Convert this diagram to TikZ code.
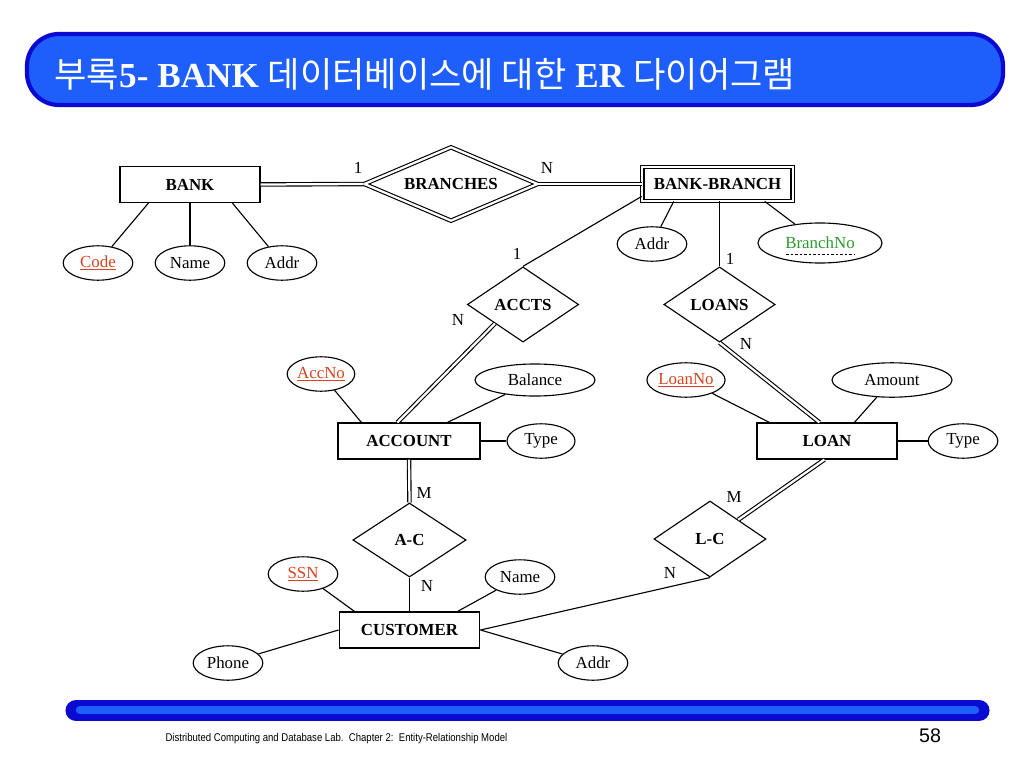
\documentclass[tikz,border=0pt]{standalone}
\usepackage{fontspec}
\setmainfont{Liberation Serif}
\newfontfamily\krfont{Noto Sans CJK KR}
\newfontfamily\footfont{Liberation Sans}
\usetikzlibrary{shapes.geometric,calc}
\definecolor{barblue}{HTML}{1E5EFA}
\definecolor{bardark}{HTML}{0A0AD0}
\definecolor{keyred}{HTML}{D8431E}
\definecolor{partgreen}{HTML}{2E9A2E}
\tikzset{
  entity/.style  = {draw, rectangle, font=\fontsize{12}{14}\selectfont\bfseries,
                    inner sep=0pt, minimum width=3.5cm, minimum height=0.9cm},
  weakent/.style = {entity, double, double distance=1.6pt},
  rel/.style     = {draw, diamond, aspect=1.5, inner sep=0pt,
                    font=\fontsize{12}{14}\selectfont\bfseries,
                    minimum width=2.78cm, minimum height=1.88cm},
  weakrel/.style = {rel, double, double distance=1.6pt},
  attr/.style    = {draw, ellipse, inner sep=0pt,
                    minimum width=1.74cm, minimum height=0.86cm},
  keyattr/.style = {attr, text=keyred},
  card/.style    = {inner sep=0pt},
  dbl/.style     = {double, double distance=1.6pt},
}

\begin{document}
\begin{tikzpicture}[x=0.025cm, y=-0.025cm, line width=0.8pt,
                    font=\fontsize{12}{14}\selectfont]
\useasboundingbox (0,0) rectangle (1024,768);
% ---- title bar ----
\draw[bardark, line width=3pt, fill=barblue, rounded corners=0.8cm]
     (27,34) rectangle (1003,105);
\node[anchor=base west, text=white, inner sep=0pt,
      font=\fontsize{25}{28}\selectfont] (title) at (54,88)
     {{\krfont 부록}\textbf{5- BANK} {\krfont 데이터베이스에 대한}
      \textbf{ER} {\krfont 다이어그램}};
% ---- entities ----
\node[entity] (bank) at (190,184.5) {BANK};
\node[weakent, minimum width=3.76cm, minimum height=0.84cm]
     (bb) at (717.5,184) {BANK-BRANCH};
\node[entity, minimum width=3.55cm] (account) at (409,441) {ACCOUNT};
\node[entity] (loan) at (827,441) {LOAN};
\node[entity, minimum width=3.52cm] (customer) at (409.5,630) {CUSTOMER};
% ---- relationships ----
\node[weakrel, minimum width=4.34cm, minimum height=1.84cm]
     (branches) at (451,184) {BRANCHES};
\node[rel] (accts) at (523,304.5) {ACCTS};
\node[rel] (loans) at (719.5,304.5) {LOANS};
\node[rel, minimum width=2.83cm, minimum height=1.85cm] (ac) at (409.5,540) {A-C};
\node[rel, minimum width=2.8cm, minimum height=1.9cm] (lc) at (710,539) {L-C};
% ---- attributes ----
\node[keyattr] (code) at (98,263) {\underline{Code}};
\node[attr] (bname) at (190,263) {Name};
\node[attr] (baddr) at (282,263) {Addr};
\node[attr] (bbaddr) at (652,244) {Addr};
\node[attr, text=partgreen, minimum width=3.1cm, minimum height=1cm]
     (bno) at (820,243) {BranchNo};
\draw[line width=0.6pt, dash pattern=on 2pt off 1.2pt]
     ($(bno)+(-34,11)$) -- ($(bno)+(34,11)$);
\node[keyattr, minimum width=1.53cm] (accno) at (321,374) {\underline{AccNo}};
\node[attr, minimum width=3cm, minimum height=0.8cm]
     (balance) at (535,380) {Balance};
\node[attr, minimum width=1.7cm] (acctype) at (541,441) {Type};
\node[keyattr, minimum width=1.68cm] (loanno) at (686,380) {\underline{LoanNo}};
\node[attr, minimum width=3cm] (amount) at (892,380) {Amount};
\node[attr] (loantype) at (963,441) {Type};
\node[keyattr] (ssn) at (303,574) {\underline{SSN}};
\node[attr] (cname) at (520,577) {Name};
\node[attr] (phone) at (228,663) {Phone};
\node[attr] (caddr) at (593,663) {Addr};
% ---- connectors ----
\draw[dbl] (bank.east) -- (branches.west);
\draw[dbl] (branches.east) -- (bb.west);
\draw ($(bank.south west)+(29,0)$) -- (code);
\draw (bank.south) -- (bname);
\draw ($(bank.south west)+(113,0)$) -- (baddr);
\draw ($(bb.south west)+(32,0)$) -- (bbaddr);
\draw ($(bb.south west)+(0,-5)$) -- (accts.north);
\draw (bb.south -| loans.north) -- (loans.north);
\draw ($(bb.south west)+(123,0)$) -- (bno);
\draw[dbl] (accts.south west) -- ($(account.north west)+(60,0)$);
\draw[dbl] (loans.south) -- ($(loan.north west)+(63,0)$);
\draw ($(account.north west)+(24,0)$) -- (accno);
\draw ($(account.north west)+(110,0)$) -- (balance);
\draw (account.east) -- (acctype);
\draw ($(loan.north west)+(13,0)$) -- (loanno);
\draw ($(loan.north west)+(98,0)$) -- (amount);
\draw (loan.east) -- (loantype);
\draw[dbl] (account.south) -- (ac.north);
\draw (ac.south) -- (customer.north);
\draw[dbl] ($(loan.south west)+(68,0)$) -- (lc.north east);
\draw (customer.east) -- (lc.south);
\draw ($(customer.north west)+(16,0)$) -- (ssn);
\draw ($(customer.north west)+(119,0)$) -- (cname);
\draw (customer.west) -- (phone);
\draw (customer.east) -- (caddr);
% ---- cardinalities ----
\node[card] (cbr1) at (358,168) {1};
\node[card] (cbrn) at (547,168) {N};
\node[card] (cac1) at (517,254) {1};
\node[card] (cacn) at (458,320) {N};
\node[card] (clo1) at (730,259) {1};
\node[card] (clon) at (746,344) {N};
\node[card] (cacm) at (424,493) {M};
\node[card] (ccun) at (427,586) {N};
\node[card] (clcm) at (734,497) {M};
\node[card] (clcn) at (670,573) {N};
% ---- bottom bar and footer ----
\draw[bardark, line width=15pt, line cap=round] (76,710.5) -- (979,710.5);
\draw[barblue, line width=6pt, line cap=round] (80,710) -- (975,710);
\node[anchor=base west, inner sep=0pt, font=\footfont\fontsize{8}{10}\selectfont]
     (foot) at (165,741) {\scalebox{0.85}[1]{Distributed Computing and
     Database Lab.~~Chapter 2:~~Entity-Relationship Model}};
\node[font=\footfont\fontsize{14}{16}\selectfont] (page) at (930,736) {58};
\end{tikzpicture}
\end{document}
